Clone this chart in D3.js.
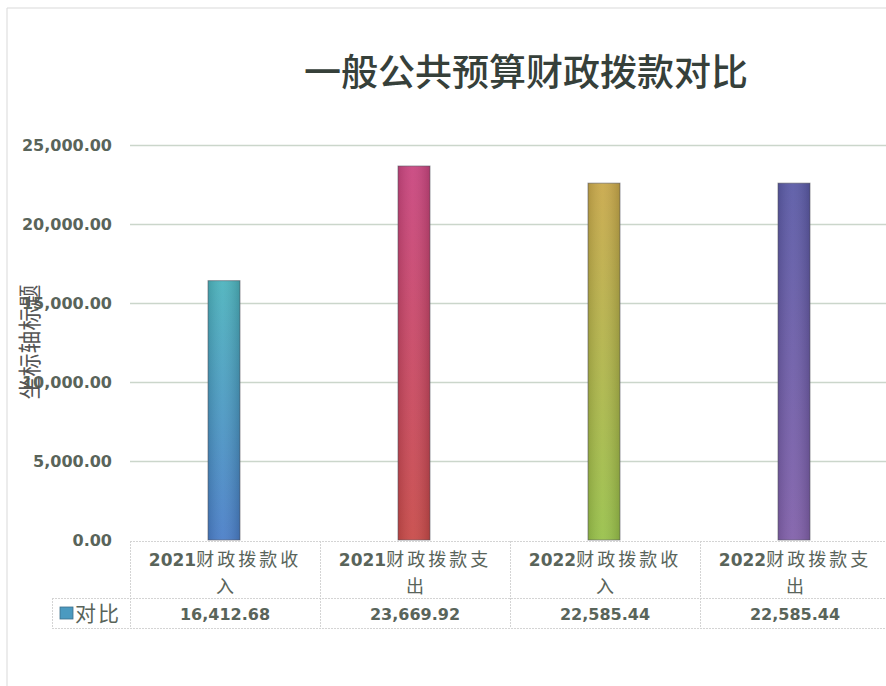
<!DOCTYPE html>
<html>
<head>
<meta charset="utf-8">
<script src="https://cdn.jsdelivr.net/npm/d3@7"></script>
<style>
  body { margin: 0; background: #fff; }
  svg { display: block; }
</style>
</head>
<body>
<div id="chart"></div>
<script>
const title = "一般公共预算财政拨款对比"
const yTitle = "坐标轴标题"
const seriesName = "对比"
const categories = ["2021财政拨款收入", "2021财政拨款支出", "2022财政拨款收入", "2022财政拨款支出"]
const values = [16412.68, 23669.92, 22585.44, 22585.44]
const yTicks = [0, 5000, 10000, 15000, 20000, 25000]
// top / bottom gradient colours of each bar
const barTop = ["#4cb3bd", "#c9457f", "#c9a84a", "#5a5aa6"]
const barBottom = ["#4a7ec8", "#c84a48", "#98c14a", "#8160aa"]

const width = 886, height = 686
const textColor = "#59645a"
const numFont = '"DejaVu Sans", sans-serif'
const cjkFont = '"Noto Sans CJK SC", sans-serif'

const svg = d3.select('#chart').append('svg')
    .attr('width', width)
    .attr('height', height)

// outer chart border (only top and left visible in the crop)
svg.append('path')
    .attr('d', `M7,${height} V8 H${width}`)
    .attr('fill', 'none')
    .attr('stroke', '#d9d9d9')

svg.append('text')
    .attr('x', 526)
    .attr('y', 86)
    .attr('text-anchor', 'middle')
    .style('font-family', cjkFont)
    .style('font-weight', 500)
    .style('font-size', '37px')
    .style('fill', '#36403a')
    .text(title)

const plot = {left: 130, right: 890, top: 145, bottom: 540}

const x = d3.scaleBand()
    .domain(categories)
    .range([plot.left, plot.right])
    .padding(0)

const y = d3.scaleLinear()
    .domain([0, 25000])
    .range([plot.bottom, plot.top])

// gridlines
svg.append('g')
    .selectAll('line')
    .data(yTicks.filter(d => d > 0))
    .join('line')
    .attr('x1', plot.left)
    .attr('x2', width)
    .attr('y1', d => y(d) + 0.5)
    .attr('y2', d => y(d) + 0.5)
    .attr('stroke', '#cbd6cb')
    .attr('stroke-width', 1.5)

// y tick labels
const fmt = d3.format(',.2f')
svg.append('g')
    .selectAll('text')
    .data(yTicks)
    .join('text')
    .attr('x', 112)
    .attr('y', d => y(d))
    .attr('dy', '0.35em')
    .attr('text-anchor', 'end')
    .style('font-family', numFont)
    .style('font-weight', 'bold')
    .style('font-size', '16px')
    .style('fill', textColor)
    .text(d => fmt(d))

// y axis title, sits over the tick labels as in the original
svg.append('text')
    .attr('transform', 'translate(38, 342) rotate(-90)')
    .attr('text-anchor', 'middle')
    .style('font-family', cjkFont)
    .style('font-size', '23px')
    .style('fill', '#555')
    .text(yTitle)

// gradients for the bars
const defs = svg.append('defs')
categories.forEach((c, i) => {
    const g = defs.append('linearGradient')
        .attr('id', 'bar-grad-' + i)
        .attr('x1', 0).attr('y1', 0).attr('x2', 0).attr('y2', 1)
    g.append('stop').attr('offset', '0%').attr('stop-color', barTop[i])
    g.append('stop').attr('offset', '100%').attr('stop-color', barBottom[i])
})
const shade = defs.append('linearGradient')
    .attr('id', 'bar-shade')
    .attr('x1', 0).attr('y1', 0).attr('x2', 1).attr('y2', 0)
shade.append('stop').attr('offset', '0%').attr('stop-color', '#000').attr('stop-opacity', 0.12)
shade.append('stop').attr('offset', '45%').attr('stop-color', '#fff').attr('stop-opacity', 0.06)
shade.append('stop').attr('offset', '100%').attr('stop-color', '#000').attr('stop-opacity', 0.15)

const barWidth = 32
const bars = svg.append('g')
    .selectAll('g')
    .data(categories)
    .join('g')

bars.append('rect')
    .attr('x', d => x(d) + x.bandwidth() / 2 - barWidth / 2 - 1)
    .attr('y', (d, i) => y(values[i]))
    .attr('width', barWidth)
    .attr('height', (d, i) => y(0) - y(values[i]))
    .attr('fill', (d, i) => `url(#bar-grad-${i})`)
    .attr('stroke', '#5a5a66')
    .attr('stroke-opacity', 0.6)

bars.append('rect')
    .attr('x', d => x(d) + x.bandwidth() / 2 - barWidth / 2 - 1)
    .attr('y', (d, i) => y(values[i]))
    .attr('width', barWidth)
    .attr('height', (d, i) => y(0) - y(values[i]))
    .attr('fill', 'url(#bar-shade)')

// data table under the plot
const rowTop = plot.bottom + 1, rowMid = 598, rowBottom = 628
const legendLeft = 52
const tableLine = '#d4d4d4'
const table = svg.append('g')
    .attr('stroke', tableLine)
    .attr('stroke-width', 1)
    .attr('stroke-dasharray', '2,1')

table.append('line')
    .attr('x1', plot.left).attr('x2', width)
    .attr('y1', rowTop + 0.5).attr('y2', rowTop + 0.5)
table.append('line')
    .attr('x1', legendLeft).attr('x2', width)
    .attr('y1', rowMid + 0.5).attr('y2', rowMid + 0.5)
table.append('line')
    .attr('x1', legendLeft).attr('x2', width)
    .attr('y1', rowBottom + 0.5).attr('y2', rowBottom + 0.5)
table.append('line')
    .attr('x1', legendLeft + 0.5).attr('x2', legendLeft + 0.5)
    .attr('y1', rowMid).attr('y2', rowBottom)
table.selectAll('line.col')
    .data(categories)
    .join('line')
    .attr('class', 'col')
    .attr('x1', d => x(d) + 0.5)
    .attr('x2', d => x(d) + 0.5)
    .attr('y1', rowTop)
    .attr('y2', rowBottom)

// category labels: year in bold digits, then the words, wrapped after
// the 9th character like the original cell
const catLabels = svg.append('g')
    .selectAll('g')
    .data(categories)
    .join('g')

catLabels.each(function(d) {
    const g = d3.select(this)
    const cx = x(d) + x.bandwidth() / 2
    const first = g.append('text')
        .attr('x', cx)
        .attr('y', 566)
        .attr('text-anchor', 'middle')
        .style('fill', textColor)
    first.append('tspan')
        .style('font-family', numFont)
        .style('font-weight', 'bold')
        .style('font-size', '17px')
        .text(d.slice(0, 4))
    first.append('tspan')
        .style('font-family', cjkFont)
        .style('font-size', '18px')
        .style('letter-spacing', '3px')
        .text(d.slice(4, 9))
    g.append('text')
        .attr('x', cx)
        .attr('y', 593)
        .attr('text-anchor', 'middle')
        .style('font-family', cjkFont)
        .style('font-size', '18px')
        .style('fill', textColor)
        .text(d.slice(9))
})

// value row
svg.append('g')
    .selectAll('text')
    .data(categories)
    .join('text')
    .attr('x', d => x(d) + x.bandwidth() / 2)
    .attr('y', 614)
    .attr('dy', '0.35em')
    .attr('text-anchor', 'middle')
    .style('font-family', numFont)
    .style('font-weight', 'bold')
    .style('font-size', '16px')
    .style('fill', textColor)
    .text((d, i) => fmt(values[i]))

// legend key in the first cell
svg.append('rect')
    .attr('x', 60)
    .attr('y', 607)
    .attr('width', 13)
    .attr('height', 12)
    .attr('fill', '#4b9ac0')
    .attr('stroke', '#3d6f8a')
    .attr('stroke-width', 0.8)
svg.append('text')
    .attr('x', 75)
    .attr('y', 614)
    .attr('dy', '0.35em')
    .style('font-family', cjkFont)
    .style('font-size', '21px')
    .style('letter-spacing', '2px')
    .style('fill', textColor)
    .text(seriesName)
</script>
</body>
</html>
